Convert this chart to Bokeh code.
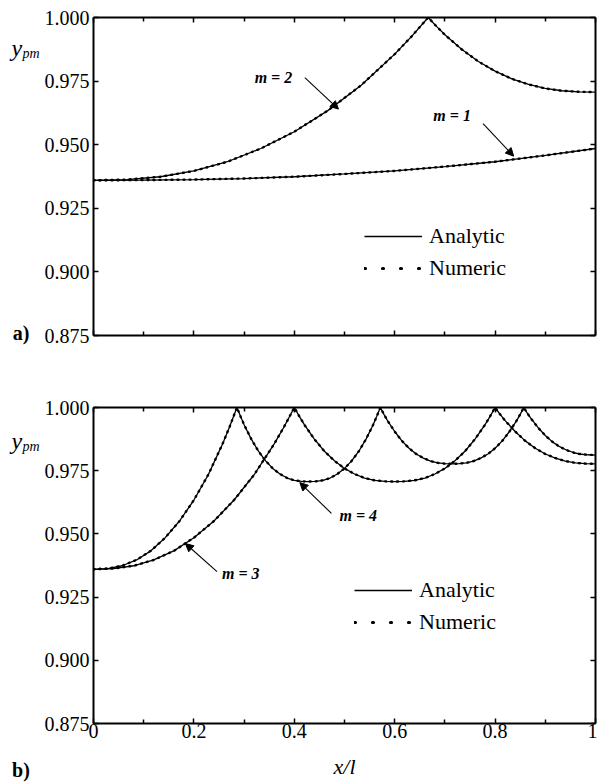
from bokeh.plotting import figure
from bokeh.models import (Range1d, LinearAxis, FixedTicker, PrintfTickFormatter,
                          CustomJSTickFormatter, Legend, LegendItem, Label, Arrow, NormalHead)
from bokeh.layouts import column, row
from bokeh.embed import file_html
from bokeh.resources import INLINE

FONT = "Liberation Serif"
NAN = float("nan")

# ---------------- data ----------------
x_ticks = [0.0, 0.2, 0.4, 0.6, 0.8, 1.0]
x_minor = [0.1, 0.3, 0.5, 0.7, 0.9]
y_ticks = [0.875, 0.900, 0.925, 0.950, 0.975, 1.000]

x_m1 = [0.0, 0.1, 0.2, 0.3, 0.4, 0.5, 0.6, 0.7, 0.8, 0.9, 1.0]
y_m1 = [0.9360, 0.9361, 0.9363, 0.9367, 0.9374, 0.9385, 0.9397, 0.9414, 0.9433, 0.9458, 0.9485]

x_m2 = [0.0, 0.0667, 0.1333, 0.2, 0.2667, 0.3333, 0.4, 0.4667, 0.5333, 0.6, 0.6333, 0.6667,
        0.6833, 0.7, 0.7333, 0.7667, 0.8, 0.8333, 0.8667, 0.9, 0.9333, 0.9667, 1.0]
y_m2 = [0.9360, 0.9363, 0.9374, 0.9397, 0.9433, 0.9485, 0.9551, 0.9634, 0.9734, 0.9856, 0.9925, 1.0000,
        0.9965, 0.9932, 0.9875, 0.9827, 0.9789, 0.9759, 0.9737, 0.9721, 0.9712, 0.9708, 0.9707]

x_m3 = [0.0, 0.04, 0.08, 0.12, 0.16, 0.2, 0.24, 0.28, 0.32, 0.36, 0.38, 0.4,
        0.41, 0.42, 0.44, 0.46, 0.48, 0.5, 0.52, 0.54, 0.56, 0.58, 0.6,
        0.62, 0.64, 0.66, 0.68, 0.7, 0.72, 0.74, 0.76, 0.78, 0.79, 0.8,
        0.81, 0.82, 0.84, 0.86, 0.88, 0.9, 0.92, 0.94, 0.96, 0.98, 1.0]
y_m3 = [0.9360, 0.9363, 0.9374, 0.9397, 0.9433, 0.9485, 0.9551, 0.9634, 0.9734, 0.9856, 0.9925, 1.0000,
        0.9965, 0.9932, 0.9875, 0.9827, 0.9789, 0.9759, 0.9737, 0.9721, 0.9712, 0.9708, 0.9707,
        0.9708, 0.9712, 0.9721, 0.9737, 0.9759, 0.9789, 0.9827, 0.9875, 0.9932, 0.9965, 1.0000,
        0.9973, 0.9948, 0.9905, 0.9868, 0.9839, 0.9816, 0.9800, 0.9788, 0.9781, 0.9778, 0.9777]

x_m4 = [0.0, 0.0286, 0.0571, 0.0857, 0.1143, 0.1429, 0.1714, 0.2, 0.2286, 0.2571, 0.2714, 0.2857,
        0.2929, 0.3, 0.3143, 0.3286, 0.3429, 0.3571, 0.3714, 0.3857, 0.4, 0.4143, 0.4286,
        0.4429, 0.4571, 0.4714, 0.4857, 0.5, 0.5143, 0.5286, 0.5429, 0.5571, 0.5643, 0.5714,
        0.5786, 0.5857, 0.6, 0.6143, 0.6286, 0.6429, 0.6571, 0.6714, 0.6857, 0.7, 0.7143,
        0.7286, 0.7429, 0.7571, 0.7714, 0.7857, 0.8, 0.8143, 0.8286, 0.8429, 0.85, 0.8571,
        0.8643, 0.8714, 0.8857, 0.9, 0.9143, 0.9286, 0.9429, 0.9571, 0.9714, 0.9857, 1.0]
y_m4 = [0.9360, 0.9363, 0.9374, 0.9397, 0.9433, 0.9485, 0.9551, 0.9634, 0.9734, 0.9856, 0.9925, 1.0000,
        0.9965, 0.9932, 0.9875, 0.9827, 0.9789, 0.9759, 0.9737, 0.9721, 0.9712, 0.9708, 0.9707,
        0.9708, 0.9712, 0.9721, 0.9737, 0.9759, 0.9789, 0.9827, 0.9875, 0.9932, 0.9965, 1.0000,
        0.9973, 0.9948, 0.9905, 0.9868, 0.9839, 0.9816, 0.9800, 0.9788, 0.9781, 0.9778, 0.9777,
        0.9778, 0.9781, 0.9788, 0.9800, 0.9816, 0.9839, 0.9868, 0.9905, 0.9948, 0.9973, 1.0000,
        0.9977, 0.9957, 0.9920, 0.9889, 0.9864, 0.9845, 0.9831, 0.9821, 0.9815, 0.9813, 0.9812]

legend_labels = ["Analytic", "Numeric"]

# annotation anchors (data units): text x, text y, arrow start x/y, arrow end x/y
ann_top = [("m = 2", 0.321, 0.9764, 0.421, 0.9764, 0.488, 0.9640),
           ("m = 1", 0.677, 0.9615, 0.776, 0.9583, 0.837, 0.9455)]
ann_bot = [("m = 4", 0.490, 0.9573, 0.474, 0.9581, 0.411, 0.9703),
           ("m = 3", 0.256, 0.9343, 0.246, 0.9351, 0.183, 0.9462)]

SIDE_W = 41          # width of the narrow strip holding y_pm and the panel letters
MAIN_W = 597 - SIDE_W


def axis_common(ax, labels, standoff=4):
    ax.axis_line_width = 2
    ax.axis_line_color = "black"
    ax.major_tick_in = 5
    ax.major_tick_out = 0
    ax.minor_tick_in = 4
    ax.minor_tick_out = 0
    ax.major_tick_line_width = 1.5
    ax.minor_tick_line_width = 1.5
    ax.major_tick_line_color = "black"
    ax.minor_tick_line_color = "black"
    if labels:
        ax.major_label_text_font = FONT
        ax.major_label_text_font_size = "20px"
        ax.major_label_text_color = "black"
        ax.major_label_standoff = standoff
    else:
        ax.major_label_text_font_size = "0px"
        ax.major_label_standoff = 0
        ax.formatter = CustomJSTickFormatter(code="return '';")
    return ax


def make_fig(height, top, bottom, xlabels):
    p = figure(width=MAIN_W, height=height, output_backend="svg", toolbar_location=None,
               x_range=Range1d(0, 1), y_range=Range1d(0.875, 1.0),
               x_axis_location=None, y_axis_location=None,
               min_border_left=91 - SIDE_W, min_border_right=2,
               min_border_top=top, min_border_bottom=bottom)
    p.grid.visible = False
    p.outline_line_color = None
    p.background_fill_color = "white"
    p.border_fill_color = "white"

    ly = LinearAxis(ticker=FixedTicker(ticks=y_ticks),
                    formatter=PrintfTickFormatter(format="%.3f"))
    axis_common(ly, True, 4)
    p.add_layout(ly, "left")
    ry = LinearAxis(ticker=FixedTicker(ticks=y_ticks))
    axis_common(ry, False)
    p.add_layout(ry, "right")

    bx = LinearAxis(ticker=FixedTicker(ticks=x_ticks, minor_ticks=x_minor))
    axis_common(bx, xlabels, 0)
    if xlabels:
        bx.formatter = CustomJSTickFormatter(
            code="return (Math.abs(tick) < 1e-9) ? '0' : (Math.abs(tick - 1) < 1e-9 ? '1' : tick.toFixed(1));")
        bx.axis_label = "x/l"
        bx.axis_label_text_font = FONT
        bx.axis_label_text_font_size = "22px"
        bx.axis_label_text_font_style = "italic"
        bx.axis_label_text_color = "black"
        bx.axis_label_standoff = 13
    p.add_layout(bx, "below")
    tx = LinearAxis(ticker=FixedTicker(ticks=x_ticks, minor_ticks=x_minor))
    axis_common(tx, False)
    p.add_layout(tx, "above")
    return p


def make_side(height, letter, letter_standoff):
    s = figure(width=SIDE_W, height=height, output_backend="svg", toolbar_location=None,
               x_range=Range1d(0, SIDE_W), y_range=Range1d(0, height),
               x_axis_location=None, y_axis_location=None,
               min_border_left=0, min_border_right=0, min_border_top=0, min_border_bottom=0)
    s.grid.visible = False
    s.outline_line_color = None
    s.background_fill_color = "white"
    s.border_fill_color = "white"
    ax = LinearAxis(ticker=FixedTicker(ticks=[]), axis_line_color=None,
                    major_tick_line_color=None, minor_tick_line_color=None,
                    major_label_text_font_size="0px", major_label_standoff=0,
                    axis_label=letter, axis_label_standoff=letter_standoff,
                    axis_label_text_font=FONT, axis_label_text_font_size="20px",
                    axis_label_text_font_style="bold", axis_label_text_color="black")
    s.add_layout(ax, "below")
    return s


def side_label(s, x, y, text, size, style, baseline="alphabetic"):
    # y is measured up from the bottom of the (row-aligned) frame
    s.add_layout(Label(x=x, y=y, x_units="screen", y_units="screen", text=text,
                       text_font=FONT, text_font_size=size, text_font_style=style,
                       text_baseline=baseline, text_align="left", text_color="black"))


def add_curve(p, xs, ys):
    p.line(xs, ys, line_color="black", line_width=1.3)
    p.line(xs, ys, line_color="black", line_width=2.4, line_dash="1 5", line_cap="round")


def add_legend(p, loc):
    ra = p.line(x=[NAN], y=[NAN], line_color="black", line_width=1.4)
    rn = p.line(x=[NAN], y=[NAN], line_color="black", line_width=3.2, line_dash="1 17", line_cap="round")
    lg = Legend(items=[LegendItem(label=legend_labels[0], renderers=[ra]),
                       LegendItem(label=legend_labels[1], renderers=[rn])],
                location=loc, glyph_width=58, glyph_height=26, label_height=26,
                label_standoff=7, spacing=6, padding=0, margin=0,
                border_line_color=None, background_fill_alpha=0,
                label_text_font=FONT, label_text_font_size="22px", label_text_color="black")
    p.add_layout(lg)


def add_annotations(p, anns):
    for txt, tx, ty, x0, y0, x1, y1 in anns:
        p.add_layout(Label(x=tx, y=ty, text=txt, text_font=FONT, text_font_size="16px",
                           text_font_style="bold italic", text_baseline="middle",
                           text_align="left", text_color="black"))
        p.add_layout(Arrow(end=NormalHead(size=8, line_width=1, line_color="black", fill_color="black"),
                           x_start=x0, y_start=y0, x_end=x1, y_end=y1,
                           line_width=1.1, line_color="black"))


# ---------------- top panel ----------------
top_h, top_bt, top_bb = 372, 17, 37
p1 = make_fig(top_h, top_bt, top_bb, False)
add_curve(p1, x_m1, y_m1)
add_curve(p1, x_m2, y_m2)
add_legend(p1, (271, 54))
add_annotations(p1, ann_top)
s1 = make_side(top_h, "a)", -14)
fb1 = top_h - top_bb            # frame bottom, in pixels from the canvas top
side_label(s1, 11, fb1 - 47, "y", "24px", "italic")
side_label(s1, 22, fb1 - 53, "pm", "14px", "italic")

# ---------------- bottom panel ----------------
bot_h, bot_bt, bot_bb = 412, 35, 61
p2 = make_fig(bot_h, bot_bt, bot_bb, True)
add_curve(p2, x_m3, y_m3)
add_curve(p2, x_m4, y_m4)
add_legend(p2, (261, 88))
add_annotations(p2, ann_bot)
s2 = make_side(bot_h, "b)", 35)
fb2 = bot_h - bot_bb
side_label(s2, 11, fb2 - 68, "y", "24px", "italic")
side_label(s2, 22, fb2 - 74, "pm", "14px", "italic")

layout = column(row(s1, p1, spacing=0), row(s2, p2, spacing=0), spacing=0)
open("out.html", "w").write(file_html(layout, INLINE))
